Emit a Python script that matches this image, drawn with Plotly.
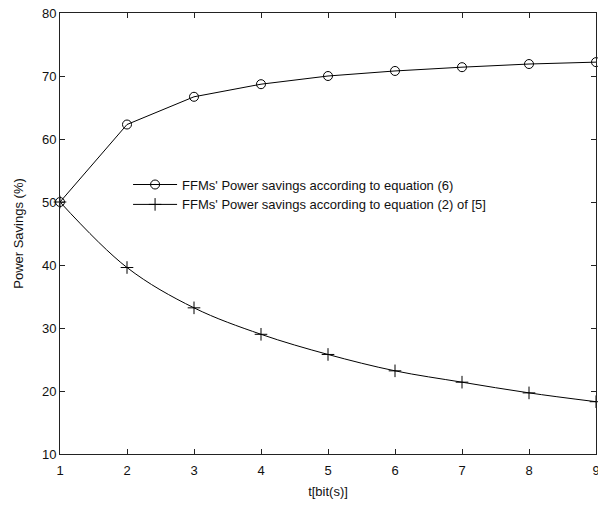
import plotly.graph_objects as go

t_bits = [1, 2, 3, 4, 5, 6, 7, 8, 9]
savings_eq6 = [50, 62.3, 66.7, 68.7, 70.0, 70.8, 71.4, 71.9, 72.2]
savings_eq2_ref5 = [50, 39.6, 33.2, 29.0, 25.8, 23.2, 21.4, 19.7, 18.3]
y_ticks = [10, 20, 30, 40, 50, 60, 70, 80]
x_ticks = [1, 2, 3, 4, 5, 6, 7, 8, 9]

FONT = "Liberation Sans, Arial"

fig = go.Figure()
fig.add_trace(go.Scatter(
    x=t_bits, y=savings_eq6, mode="lines+markers",
    name="FFMs' Power savings according to equation (6)",
    line=dict(color="black", width=1),
    marker=dict(symbol="circle-open", size=9, color="black", line=dict(width=1, color="black")),
    cliponaxis=False,
))
fig.add_trace(go.Scatter(
    x=t_bits, y=savings_eq2_ref5, mode="lines+markers",
    name="FFMs' Power savings according to equation (2) of [5]",
    line=dict(color="black", width=1, shape="spline"),
    marker=dict(symbol="cross-thin-open", size=9, color="black", line=dict(width=1, color="black")),
    cliponaxis=False,
))

axis_common = dict(
    showline=True, linecolor="#222", linewidth=1, mirror="ticks",
    ticks="inside", ticklen=5, tickcolor="#222", showgrid=False, zeroline=False,
    automargin=False, ticklabeloverflow="allow",
    tickfont=dict(family=FONT, size=13, color="#111"),
)
fig.update_xaxes(range=[1, 9], tickvals=x_ticks, ticklabelstandoff=4,
                 title=dict(text="t[bit(s)]", standoff=10,
                            font=dict(family=FONT, size=13, color="#111")), **axis_common)
fig.update_yaxes(range=[10, 80], tickvals=y_ticks,
                 title=dict(text="Power Savings (%)", standoff=15,
                            font=dict(family=FONT, size=13, color="#111")), **axis_common)

fig.update_layout(
    width=598, height=506,
    margin=dict(l=60, r=2, t=13, b=52, autoexpand=False),
    paper_bgcolor="white", plot_bgcolor="white",
    showlegend=True,
    legend=dict(x=0.127, y=0.645, xanchor="left", yanchor="top",
                bgcolor="rgba(255,255,255,0)", borderwidth=0, itemwidth=44,
                font=dict(family=FONT, size=13, color="#111"),
                tracegroupgap=0),
)
fig.write_html(
    "out.html",
    config={"displayModeBar": False},
    post_script="document.body.style.margin='0';document.body.style.overflow='hidden';",
)
